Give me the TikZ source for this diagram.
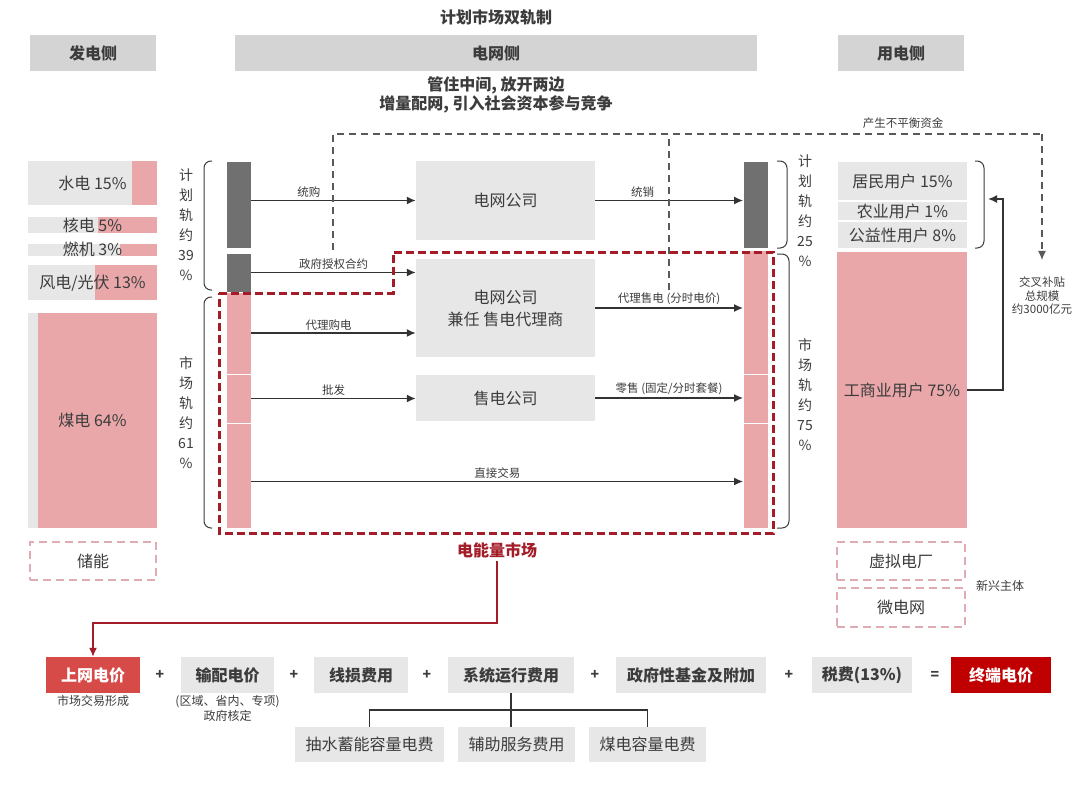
\documentclass[tikz,border=0pt]{standalone}
\usepackage{fontspec}
\setmainfont{Noto Sans CJK SC}
\usepackage{tikz}
\usetikzlibrary{arrows.meta,positioning}
\definecolor{headgray}{RGB}{212,212,212}
\definecolor{softgray}{RGB}{231,231,231}
\definecolor{softpink}{RGB}{233,167,169}
\definecolor{darkbar}{RGB}{112,112,112}
\definecolor{marketred}{RGB}{163,28,40}
\definecolor{pricered}{RGB}{214,74,72}
\definecolor{finalred}{RGB}{192,0,0}
\definecolor{dashpink}{RGB}{222,172,178}
\definecolor{inkgray}{RGB}{60,60,60}

\begin{document}
\begin{tikzpicture}[>={Latex[length=9pt,width=8pt]}, x=1pt, y=-1pt,
  every node/.append style={text=inkgray},
  big/.style={font=\fontsize{16}{19}\selectfont},
  small/.style={font=\fontsize{11.5}{13.5}\selectfont},
  head/.style={fill=headgray, inner sep=0pt, minimum height=36pt, font=\bfseries\fontsize{16}{19}\selectfont},
  co/.style={fill=softgray, inner sep=0pt, big},
  cell/.style={co, text height=12pt, text depth=0pt},
  share/.style={path picture={\fill[softpink] ([xshift=-#1]path picture bounding box.north east) rectangle (path picture bounding box.south east);}},
  seg/.style={draw=white, line width=0.8pt, inner sep=0pt, minimum width=25pt},
  vtext/.style={align=center, inner sep=0pt, font=\fontsize{14}{20}\selectfont},
  brace/.style={draw=inkgray, line width=1pt, rounded corners=7pt},
  flow/.style={->, draw=black!80, line width=1.6pt},
  lbl/.style={above, inner sep=2pt, small},
  market/.style={draw=marketred, line width=3pt, dash pattern=on 8pt off 4pt},
  imbal/.style={draw=black!65, line width=1.2pt, dash pattern=on 7pt off 5pt},
  dashbox/.style={draw=dashpink, line width=2pt, dash pattern=on 8pt off 5pt, inner sep=0pt, big},
  term/.style={fill=softgray, inner sep=0pt, minimum height=36pt, font=\bfseries\fontsize{16}{19}\selectfont},
  pricebox/.style={term, text=white},
  op/.style={font=\bfseries\fontsize{14}{16}\selectfont},
  note/.style={inner sep=0pt, font=\fontsize{12}{15}\selectfont},
  price/.style={->, draw=marketred, line width=1.5pt},
  tree/.style={draw=black!80, line width=1.4pt}]
  \fill[white] (0,0) rectangle (1080,787);
  \useasboundingbox (0,0) rectangle (1080,787);

  \node[font=\bfseries\fontsize{16}{19}\selectfont] (title) at (496,17) {计划市场双轨制};
  \node[head, minimum width=126pt] (genside) at (93,53) {发电侧};
  \node[head, minimum width=522pt] (gridside) at (496,53) {电网侧};
  \node[head, minimum width=126pt] (useside) at (901,53) {用电侧};
  \node[font=\bfseries\fontsize{16}{19}\selectfont, align=center] (motto) at (496,95) {管住中间, 放开两边\\增量配网, 引入社会资本参与竞争};

  \node[cell, share=25pt, minimum width=129pt, minimum height=44pt] (hydro) at (92.5,183) {水电 15\%};
  \node[cell, share=59pt, minimum width=129pt, minimum height=16pt] (nuclear) at (92.5,225) {核电 5\%};
  \node[cell, share=37pt, minimum width=129pt, minimum height=12pt] (gas) at (92.5,249.5) {燃机 3\%};
  \node[cell, share=62pt, minimum width=129pt, minimum height=35pt] (wind) at (92.5,282.5) {风电/光伏 13\%};
  \node[cell, share=119pt, minimum width=129pt, minimum height=215pt] (coal) at (92.5,420.5) {煤电 64\%};
  \node[dashbox, minimum width=126pt, minimum height=38pt] (storage) at (93,561) {储能};

  \draw[brace] (212,161) -- (204,161) -- (204,290) -- (212,290);
  \draw[brace] (212,297) -- (204,297) -- (204,528) -- (212,528);
  \node[vtext] (planl) at (186,225) {计\\划\\轨\\约\\39\\\%};
  \node[vtext] (mktl) at (186,413) {市\\场\\轨\\约\\61\\\%};

  \node[seg, fill=darkbar, minimum height=87pt] (lplan1) at (238.5,204.5) {};
  \node[seg, fill=darkbar, minimum height=39pt] (lplan2) at (238.5,272.5) {};
  \node[seg, fill=softpink, minimum height=82pt] (lmk1) at (238.5,333) {};
  \node[seg, fill=softpink, minimum height=49pt] (lmk2) at (238.5,398.5) {};
  \node[seg, fill=softpink, minimum height=105pt] (lmk3) at (238.5,475.5) {};
  \node[seg, fill=darkbar, minimum height=87pt] (rplan) at (756,204.5) {};
  \node[seg, fill=softpink, minimum height=124pt] (rmk1) at (756,312) {};
  \node[seg, fill=softpink, minimum height=49pt] (rmk2) at (756,398.5) {};
  \node[seg, fill=softpink, minimum height=105pt] (rmk3) at (756,475.5) {};

  \node[co, minimum width=179pt, minimum height=79pt] (grid) at (505.5,200.5) {电网公司};
  \node[co, minimum width=179pt, minimum height=98pt, align=center, font=\fontsize{16}{22}\selectfont] (agent) at (505.5,308) {电网公司\\兼任 售电代理商};
  \node[co, minimum width=179pt, minimum height=46pt] (retail) at (505.5,398) {售电公司};

  \draw[flow] (lplan1.east |- grid.west) -- node[lbl, pos=.35] {统购} (grid.west);
  \draw[flow] (grid.east) -- node[lbl, pos=.32] {统销} (grid.east -| rplan.west);
  \draw[flow] (lplan2.east) -- node[lbl] {政府授权合约} (lplan2.east -| agent.west);
  \draw[flow] (lmk1.east) -- node[lbl, pos=.47] {代理购电} (lmk1.east -| agent.west);
  \draw[flow] (agent.east) -- node[lbl] {代理售电 (分时电价)} (agent.east -| rmk1.west);
  \draw[flow] (lmk2.east) -- node[lbl] {批发} (lmk2.east -| retail.west);
  \draw[flow] (retail.east) -- node[lbl] {零售 (固定/分时套餐)} (retail.east -| rmk2.west);
  \draw[flow] ([yshift=-6pt]lmk3.east) -- node[lbl] {直接交易} ([yshift=-6pt]rmk3.west);

  \draw[market] (219,293) -- (393,293) -- (393,252) -- (773,252) -- (773,533) -- (219,533) -- cycle;
  \node[font=\bfseries\fontsize{16}{19}\selectfont, text=marketred] (mktname) at (497,550) {电能量市场};

  \draw[brace] (777,161) -- (787,161) -- (787,248) -- (777,248);
  \draw[brace] (777,254) -- (789,254) -- (789,528) -- (777,528);
  \node[vtext] (planr) at (805,211) {计\\划\\轨\\约\\25\\\%};
  \node[vtext] (mktr) at (805,395) {市\\场\\轨\\约\\75\\\%};

  \node[cell, minimum width=129pt, minimum height=38pt] (resid) at (902.5,181) {居民用户 15\%};
  \node[cell, minimum width=129pt, minimum height=18pt] (agri) at (902.5,211) {农业用户 1\%};
  \node[cell, minimum width=129pt, minimum height=26pt] (public) at (902.5,235) {公益性用户 8\%};
  \node[cell, fill=softpink, minimum width=130pt, minimum height=276pt] (indus) at (902,390) {工商业用户 75\%};
  \draw[brace] (975,161) -- (984,161) -- (984,248) -- (975,248);
  \coordinate (ubrace) at (988,199);
  \draw[flow] (indus.east) -- ++(36,0) |- (ubrace);

  \node[small, align=center, inner sep=0pt] (xsub) at (1042,296) {交叉补贴\\总规模\\约3000亿元};
  \node[small] (imbtext) at (903,123) {产生不平衡资金};
  \coordinate (imbA) at (333,250);
  \coordinate (imbB) at (669,290);
  \coordinate (imbtop) at (1042,134);
  \draw[imbal] (imbA) |- (imbtop);
  \draw[imbal] (imbB) -- (imbB |- imbtop);
  \draw[imbal, ->, shorten >=17pt] (imbtop) -- (xsub.north);

  \node[dashbox, minimum width=128pt, minimum height=38pt] (vpp) at (901,561) {虚拟电厂};
  \node[dashbox, minimum width=128pt, minimum height=39pt] (micro) at (901,607.5) {微电网};
  \node[note] (newent) at (1000,586) {新兴主体};

  \node[pricebox, fill=pricered, minimum width=94pt] (onprice) at (93,675) {上网电价};
  \node[term, minimum width=93pt] (tdprice) at (227.5,675) {输配电价};
  \node[term, minimum width=94pt] (loss) at (361,675) {线损费用};
  \node[term, minimum width=126pt] (sysop) at (511,675) {系统运行费用};
  \node[term, minimum width=150pt] (fund) at (691,675) {政府性基金及附加};
  \node[term, minimum width=100pt] (tax) at (862,675) {税费(13\%)};
  \node[pricebox, fill=finalred, minimum width=100pt] (final) at (1001,675) {终端电价};
  \foreach \x/\n in {160/p1, 294/p2, 427/p3, 595/p4, 789/p5}
    \node[op] (\n) at (\x,675) {+};
  \node[op] (eq) at (935,675) {=};
  \node[note, below=2pt of onprice] (mktform) {市场交易形成};
  \node[note, below=2pt of tdprice, align=center] (govset) {(区域、省内、专项)\\政府核定};

  \draw[price] (mktname.south) -- ++(0,62) -| (onprice.north);

  \node[co, minimum width=149pt, minimum height=35pt] (pump) at (369.5,744.5) {抽水蓄能容量电费};
  \node[co, minimum width=117pt, minimum height=35pt] (aux) at (516.5,744.5) {辅助服务费用};
  \node[co, minimum width=117pt, minimum height=35pt] (coalcap) at (647.5,744.5) {煤电容量电费};
  \draw[tree] (sysop.south) -- (sysop.south |- aux.north);
  \draw[tree] (pump.north) -- ++(0,-17) -| (coalcap.north);
\end{tikzpicture}
\end{document}
